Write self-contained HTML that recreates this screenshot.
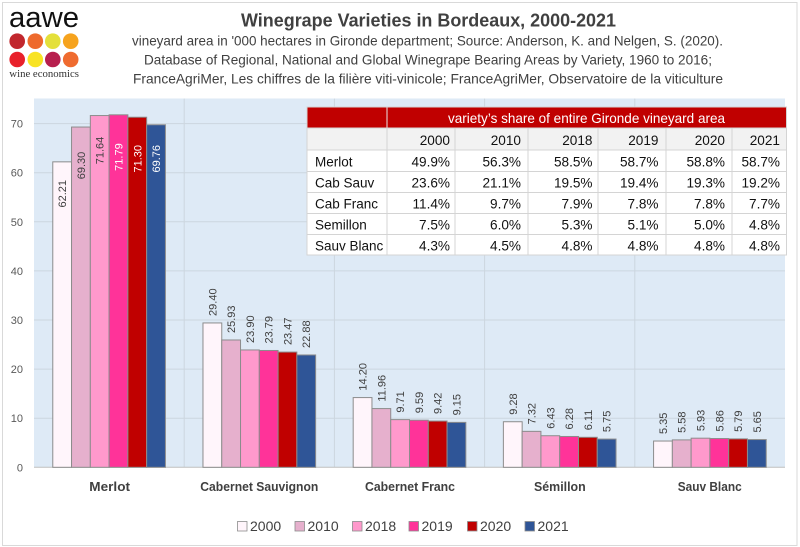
<!DOCTYPE html>
<html><head><meta charset="utf-8"><style>
html,body{margin:0;padding:0;background:#fff;}
svg{display:block;}
text{font-family:"Liberation Sans",Arial,sans-serif;}
</style></head><body>
<svg width="800" height="547" viewBox="0 0 800 547" xmlns="http://www.w3.org/2000/svg">
<rect x="0" y="0" width="800" height="547" fill="#fff"/>
<rect x="2.5" y="2.5" width="794.5" height="543" fill="#fff" stroke="#d9d9d9" stroke-width="1"/>

<!-- logo -->
<text x="9" y="27" font-size="29" fill="#111" textLength="70" lengthAdjust="spacingAndGlyphs">aawe</text>
<circle cx="17.2" cy="41.2" r="7.8" fill="#c1272d"/>
<circle cx="35.3" cy="41.2" r="7.8" fill="#ee6a2d"/>
<circle cx="52.8" cy="41.2" r="7.8" fill="#e4e03a"/>
<circle cx="70.7" cy="41.2" r="7.8" fill="#f6a31e"/>
<circle cx="17.2" cy="59.5" r="7.8" fill="#e8212b"/>
<circle cx="35.3" cy="59.5" r="7.8" fill="#f8e324"/>
<circle cx="52.8" cy="59.5" r="7.8" fill="#b71f4e"/>
<circle cx="70.7" cy="59.5" r="7.8" fill="#ef6b2f"/>
<text x="9.3" y="77" font-size="11" fill="#333" style="font-family:'Liberation Serif',serif" textLength="69.7" lengthAdjust="spacingAndGlyphs">wine economics</text>

<!-- title -->
<text x="241" y="26.7" font-size="18" font-weight="bold" fill="#404040" textLength="375" lengthAdjust="spacingAndGlyphs">Winegrape Varieties in Bordeaux, 2000-2021</text>
<text x="132" y="45.7" font-size="14" fill="#404040" textLength="591" lengthAdjust="spacingAndGlyphs">vineyard area in '000 hectares in Gironde department; Source: Anderson, K. and Nelgen, S. (2020).</text>
<text x="144" y="64.5" font-size="14" fill="#404040" textLength="568" lengthAdjust="spacingAndGlyphs">Database of Regional, National and Global Winegrape Bearing Areas by Variety, 1960 to 2016;</text>
<text x="133" y="83.3" font-size="14" fill="#404040" textLength="590" lengthAdjust="spacingAndGlyphs">FranceAgriMer, Les chiffres de la filière viti-vinicole; FranceAgriMer, Observatoire de la viticulture</text>

<!-- plot area -->
<rect x="34" y="98.5" width="751" height="368.8" fill="#deeaf6"/>
<g stroke="#ccd6df" stroke-width="1">
<line x1="34" x2="785" y1="418.2" y2="418.2"/>
<line x1="34" x2="785" y1="369.1" y2="369.1"/>
<line x1="34" x2="785" y1="320.0" y2="320.0"/>
<line x1="34" x2="785" y1="270.9" y2="270.9"/>
<line x1="34" x2="785" y1="221.8" y2="221.8"/>
<line x1="34" x2="785" y1="172.7" y2="172.7"/>
<line x1="34" x2="785" y1="123.6" y2="123.6"/>
<line x1="184.2" x2="184.2" y1="98.5" y2="467.3"/>
<line x1="334.4" x2="334.4" y1="98.5" y2="467.3"/>
<line x1="484.6" x2="484.6" y1="98.5" y2="467.3"/>
<line x1="634.8" x2="634.8" y1="98.5" y2="467.3"/>
</g>
<line x1="34" x2="785" y1="467.3" y2="467.3" stroke="#bfbfbf" stroke-width="1"/>

<!-- y tick labels -->
<g font-size="11" fill="#595959" text-anchor="end">
<text x="23" y="471.3">0</text>
<text x="23" y="422.2">10</text>
<text x="23" y="373.1">20</text>
<text x="23" y="324.0">30</text>
<text x="23" y="274.9">40</text>
<text x="23" y="225.8">50</text>
<text x="23" y="176.7">60</text>
<text x="23" y="127.6">70</text>
</g>

<!-- bars -->
<g stroke="#8c8c8c" stroke-width="1">
<rect x="52.78" y="161.85" width="18.78" height="305.45" fill="#fff5fb"/>
<rect x="71.55" y="127.04" width="18.78" height="340.26" fill="#e6b0cd"/>
<rect x="90.33" y="115.55" width="18.78" height="351.75" fill="#ff99cc"/>
<rect x="109.1" y="114.81" width="18.78" height="352.49" fill="#ff3399"/>
<rect x="127.88" y="117.22" width="18.78" height="350.08" fill="#c00000"/>
<rect x="146.65" y="124.78" width="18.78" height="342.52" fill="#2f5597"/>
<rect x="202.98" y="322.95" width="18.78" height="144.35" fill="#fff5fb"/>
<rect x="221.75" y="339.98" width="18.78" height="127.32" fill="#e6b0cd"/>
<rect x="240.53" y="349.95" width="18.78" height="117.35" fill="#ff99cc"/>
<rect x="259.3" y="350.49" width="18.78" height="116.81" fill="#ff3399"/>
<rect x="278.08" y="352.06" width="18.78" height="115.24" fill="#c00000"/>
<rect x="296.85" y="354.96" width="18.78" height="112.34" fill="#2f5597"/>
<rect x="353.18" y="397.58" width="18.78" height="69.72" fill="#fff5fb"/>
<rect x="371.95" y="408.58" width="18.78" height="58.72" fill="#e6b0cd"/>
<rect x="390.73" y="419.62" width="18.78" height="47.68" fill="#ff99cc"/>
<rect x="409.5" y="420.21" width="18.78" height="47.09" fill="#ff3399"/>
<rect x="428.28" y="421.05" width="18.78" height="46.25" fill="#c00000"/>
<rect x="447.05" y="422.37" width="18.78" height="44.93" fill="#2f5597"/>
<rect x="503.38" y="421.74" width="18.78" height="45.56" fill="#fff5fb"/>
<rect x="522.15" y="431.36" width="18.78" height="35.94" fill="#e6b0cd"/>
<rect x="540.93" y="435.73" width="18.78" height="31.57" fill="#ff99cc"/>
<rect x="559.7" y="436.47" width="18.78" height="30.83" fill="#ff3399"/>
<rect x="578.48" y="437.3" width="18.78" height="30.0" fill="#c00000"/>
<rect x="597.25" y="439.07" width="18.78" height="28.23" fill="#2f5597"/>
<rect x="653.58" y="441.03" width="18.78" height="26.27" fill="#fff5fb"/>
<rect x="672.35" y="439.9" width="18.78" height="27.4" fill="#e6b0cd"/>
<rect x="691.13" y="438.18" width="18.78" height="29.12" fill="#ff99cc"/>
<rect x="709.9" y="438.53" width="18.78" height="28.77" fill="#ff3399"/>
<rect x="728.68" y="438.87" width="18.78" height="28.43" fill="#c00000"/>
<rect x="747.45" y="439.56" width="18.78" height="27.74" fill="#2f5597"/>
</g>

<!-- data labels -->
<g font-size="11" fill="#404040">
<text text-anchor="end" transform="translate(66.17,180) rotate(-90)">62.21</text>
<text text-anchor="end" transform="translate(84.94,151.7) rotate(-90)">69.30</text>
<text text-anchor="end" transform="translate(103.72,136.7) rotate(-90)">71.64</text>
<text text-anchor="end" fill="#fff" transform="translate(122.49,143.3) rotate(-90)">71.79</text>
<text text-anchor="end" fill="#fff" transform="translate(141.27,145) rotate(-90)">71.30</text>
<text text-anchor="end" fill="#fff" transform="translate(160.04,145) rotate(-90)">69.76</text>
<text transform="translate(216.37,315.95) rotate(-90)">29.40</text>
<text transform="translate(235.14,332.98) rotate(-90)">25.93</text>
<text transform="translate(253.92,342.95) rotate(-90)">23.90</text>
<text transform="translate(272.69,343.49) rotate(-90)">23.79</text>
<text transform="translate(291.47,345.06) rotate(-90)">23.47</text>
<text transform="translate(310.24,347.96) rotate(-90)">22.88</text>
<text transform="translate(366.57,390.58) rotate(-90)">14.20</text>
<text transform="translate(385.34,401.58) rotate(-90)">11.96</text>
<text transform="translate(404.12,412.62) rotate(-90)">9.71</text>
<text transform="translate(422.89,413.21) rotate(-90)">9.59</text>
<text transform="translate(441.67,414.05) rotate(-90)">9.42</text>
<text transform="translate(460.44,415.37) rotate(-90)">9.15</text>
<text transform="translate(516.77,414.74) rotate(-90)">9.28</text>
<text transform="translate(535.54,424.36) rotate(-90)">7.32</text>
<text transform="translate(554.32,428.73) rotate(-90)">6.43</text>
<text transform="translate(573.09,429.47) rotate(-90)">6.28</text>
<text transform="translate(591.87,430.3) rotate(-90)">6.11</text>
<text transform="translate(610.64,432.07) rotate(-90)">5.75</text>
<text transform="translate(666.97,434.03) rotate(-90)">5.35</text>
<text transform="translate(685.74,432.9) rotate(-90)">5.58</text>
<text transform="translate(704.52,431.18) rotate(-90)">5.93</text>
<text transform="translate(723.29,431.53) rotate(-90)">5.86</text>
<text transform="translate(742.07,431.87) rotate(-90)">5.79</text>
<text transform="translate(760.84,432.56) rotate(-90)">5.65</text>
</g>

<!-- category labels -->
<g font-size="13" font-weight="bold" fill="#404040">
<text x="89.3" y="491" textLength="40.7" lengthAdjust="spacingAndGlyphs">Merlot</text>
<text x="200.3" y="491" textLength="118" lengthAdjust="spacingAndGlyphs">Cabernet Sauvignon</text>
<text x="365" y="491" textLength="90" lengthAdjust="spacingAndGlyphs">Cabernet Franc</text>
<text x="534" y="491" textLength="51.7" lengthAdjust="spacingAndGlyphs">Sémillon</text>
<text x="677.7" y="491" textLength="64" lengthAdjust="spacingAndGlyphs">Sauv Blanc</text>
</g>

<!-- legend -->
<g stroke="#8c8c8c" stroke-width="0.8">
<rect x="237.5" y="521.5" width="9.5" height="9.5" fill="#fff5fb"/>
<rect x="295" y="521.5" width="9.5" height="9.5" fill="#e6b0cd"/>
<rect x="352.5" y="521.5" width="9.5" height="9.5" fill="#ff99cc"/>
<rect x="409" y="521.5" width="9.5" height="9.5" fill="#ff3399"/>
<rect x="467.5" y="521.5" width="9.5" height="9.5" fill="#c00000"/>
<rect x="525" y="521.5" width="9.5" height="9.5" fill="#2f5597"/>
</g>
<g font-size="14" fill="#404040">
<text x="250" y="531">2000</text>
<text x="307.5" y="531">2010</text>
<text x="365" y="531">2018</text>
<text x="421.5" y="531">2019</text>
<text x="480" y="531">2020</text>
<text x="537.5" y="531">2021</text>
</g>

<!-- table -->
<rect x="307" y="107" width="479.5" height="148" fill="#fff"/>
<rect x="307" y="107" width="479.5" height="21" fill="#c00000"/>
<line x1="387" x2="387" y1="107" y2="128" stroke="#e8e8e8" stroke-width="1"/>
<rect x="307" y="128" width="479.5" height="22" fill="#f2f2f2"/>
<g stroke="#d4d4d4" stroke-width="1" fill="none">
<rect x="307" y="107" width="479.5" height="148"/>
<line x1="307" x2="786.5" y1="128" y2="128"/>
<line x1="307" x2="786.5" y1="150" y2="150"/>
<line x1="307" x2="786.5" y1="171.5" y2="171.5"/>
<line x1="307" x2="786.5" y1="192.5" y2="192.5"/>
<line x1="307" x2="786.5" y1="213.5" y2="213.5"/>
<line x1="307" x2="786.5" y1="234.5" y2="234.5"/>
<line x1="387" x2="387" y1="128" y2="255"/>
<line x1="455" x2="455" y1="128" y2="255"/>
<line x1="528" x2="528" y1="128" y2="255"/>
<line x1="598" x2="598" y1="128" y2="255"/>
<line x1="666" x2="666" y1="128" y2="255"/>
<line x1="732" x2="732" y1="128" y2="255"/>
</g>
<text x="448" y="123" font-size="14" fill="#fff" textLength="277" lengthAdjust="spacingAndGlyphs">variety’s share of entire Gironde vineyard area</text>
<g font-size="13.5" fill="#111">
<text x="315" y="166.7">Merlot</text>
<text x="315" y="187.5">Cab Sauv</text>
<text x="315" y="208.5">Cab Franc</text>
<text x="315" y="229.5">Semillon</text>
<text x="315" y="250.3">Sauv Blanc</text>
</g>
<g font-size="13.6" fill="#111" text-anchor="end">
<text x="450" y="145">2000</text><text x="521" y="145">2010</text><text x="592.5" y="145">2018</text><text x="658.5" y="145">2019</text><text x="725" y="145">2020</text><text x="780" y="145">2021</text>
<text x="450" y="166.7">49.9%</text><text x="521" y="166.7">56.3%</text><text x="592.5" y="166.7">58.5%</text><text x="658.5" y="166.7">58.7%</text><text x="725" y="166.7">58.8%</text><text x="780" y="166.7">58.7%</text>
<text x="450" y="187.5">23.6%</text><text x="521" y="187.5">21.1%</text><text x="592.5" y="187.5">19.5%</text><text x="658.5" y="187.5">19.4%</text><text x="725" y="187.5">19.3%</text><text x="780" y="187.5">19.2%</text>
<text x="450" y="208.5">11.4%</text><text x="521" y="208.5">9.7%</text><text x="592.5" y="208.5">7.9%</text><text x="658.5" y="208.5">7.8%</text><text x="725" y="208.5">7.8%</text><text x="780" y="208.5">7.7%</text>
<text x="450" y="229.5">7.5%</text><text x="521" y="229.5">6.0%</text><text x="592.5" y="229.5">5.3%</text><text x="658.5" y="229.5">5.1%</text><text x="725" y="229.5">5.0%</text><text x="780" y="229.5">4.8%</text>
<text x="450" y="250.3">4.3%</text><text x="521" y="250.3">4.5%</text><text x="592.5" y="250.3">4.8%</text><text x="658.5" y="250.3">4.8%</text><text x="725" y="250.3">4.8%</text><text x="780" y="250.3">4.8%</text>
</g>
</svg>
</body></html>
